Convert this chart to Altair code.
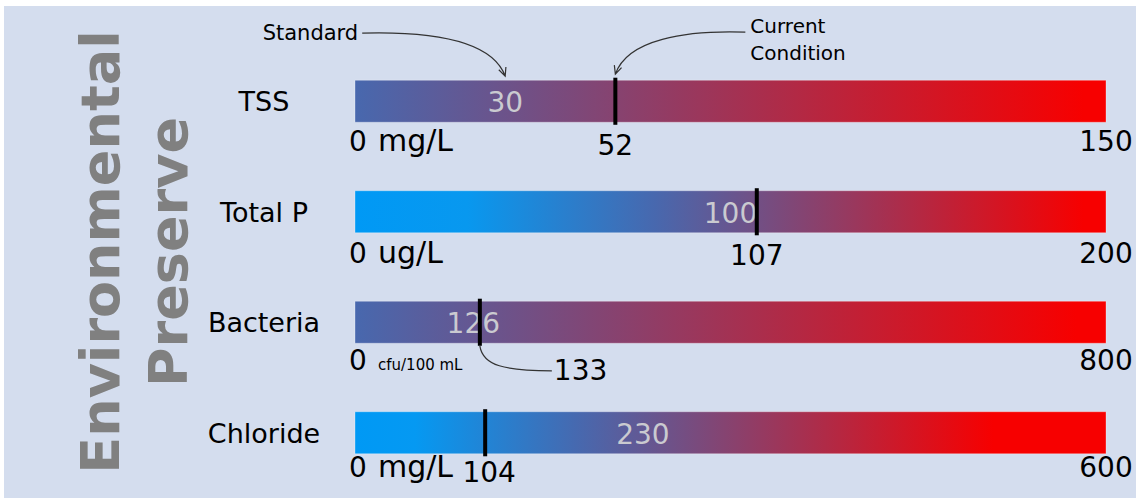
import altair as alt
import pandas as pd

# Water-quality indicators, each on its own 0..max scale
parameters = ["TSS", "Total P", "Bacteria", "Chloride"]
units = ["mg/L", "ug/L", "cfu/100 mL", "mg/L"]
standards = [30, 100, 126, 230]
current = [52, 107, 133, 104]
scale_max = [150, 200, 800, 600]

df = pd.DataFrame({
    "param": parameters,
    "unit": units,
    "standard": standards,
    "current": current,
    "max": scale_max,
    "row": list(range(len(parameters))),
})

# ---- styling -------------------------------------------------------------
FONT = "DejaVu Sans"
PANEL = "#d4ddee"
BAR_HALF = 0.19      # bar half-height, in row units
TICK_HALF = 0.213    # current-condition tick half-height, in row units

BLUE, STEEL, RED = "#0099f5", "#4868ae", "#f70000"
gradients = [
    [(0.0, STEEL), (0.97, RED), (1.0, RED)],
    [(0.0, BLUE), (0.15, "#0898ef"), (0.40, STEEL), (0.97, RED), (1.0, RED)],
    [(0.0, STEEL), (0.96, RED), (1.0, RED)],
    [(0.0, BLUE), (0.08, "#0599f2"), (0.30, STEEL), (0.85, RED), (1.0, RED)],
]
range_dy = [50, 51, 48, 44]          # baseline offset of the 0 / max labels
current_dy = [54, 53, 58, 49]        # baseline offset of the current value
current_align = ["center", "center", "left", "center"]
current_dx = [0, 0, 74, 4]
unit_size = [30, 30, 15, 30]

# leader shapes (unit box scaled by symbol size 40000 -> 100 px per unit)
STD_LEADER = ("M -1.43 -0.43 C -0.70 -0.45 -0.13 -0.35 0 0 "
              "M 0.007 -0.09 L 0 0 L -0.064 -0.063")
CUR_LEADER = ("M 1.30 -0.42 C 0.70 -0.44 0.12 -0.35 0 0 "
              "M 0.062 -0.065 L 0 0 L -0.010 -0.090")
BAC_LEADER = "M 0 0 C 0.03 0.20 0.25 0.25 0.72 0.25"

XS = alt.Scale(domain=[0, 1], nice=False, zero=False)
YS = alt.Scale(domain=[-0.5, 3.5], reverse=True, nice=False, zero=False)


def xe(field):
    return alt.X(f"{field}:Q", scale=XS, axis=None)


def ye(field):
    return alt.Y(f"{field}:Q", scale=YS, axis=None)


base = alt.Chart(df).transform_calculate(
    lo="0",
    hi="datum.max / datum.max",
    std_f="datum.standard / datum.max",
    cur_f="datum.current / datum.max",
    top=f"datum.row - {BAR_HALF}",
    bot=f"datum.row + {BAR_HALF}",
    ttop=f"datum.row - {TICK_HALF}",
    tbot=f"datum.row + {TICK_HALF}",
    arrow_std="datum.row - 0.228",
    arrow_cur="datum.row - 0.245",
)

layers = []

# panel background
panel = alt.Chart(pd.DataFrame({"p": [0]})).mark_rect(fill=PANEL).encode(
    x=alt.value(-351), x2=alt.value(781), y=alt.value(-40), y2=alt.value(452)
)
layers.append(panel)

# rotated title
for line, xpix in (("Environmental", -236), ("Preserve", -168)):
    layers.append(
        alt.Chart(pd.DataFrame({"p": [0]})).mark_text(
            text=line, angle=270, align="center", baseline="alphabetic",
            font=FONT, fontSize=54, fontWeight="bold", color="#808080",
        ).encode(x=alt.value(xpix), y=alt.value(206))
    )

# parameter names
layers.append(
    base.mark_text(align="center", baseline="alphabetic", dx=-91, dy=10,
                   font=FONT, fontSize=27, color="black")
    .encode(x=xe("lo"), y=ye("row"), text="param:N")
)

for i in range(len(parameters)):
    row = base.transform_filter(alt.datum.row == i)
    grad = alt.LinearGradient(
        gradient="linear",
        stops=[alt.GradientStop(offset=o, color=c) for o, c in gradients[i]],
        x1=0, x2=1, y1=0, y2=0,
    )
    layers.append(
        row.mark_rect(fill=grad, stroke="white", strokeOpacity=0.3, strokeWidth=1)
        .encode(x=xe("lo"), x2="hi", y=ye("top"), y2="bot")
    )
    # standard value inside the bar
    layers.append(
        row.mark_text(align="center", baseline="alphabetic", dy=11,
                      font=FONT, fontSize=28, color="#cacad0")
        .encode(x=xe("std_f"), y=ye("row"), text="standard:Q")
    )
    # current condition tick
    layers.append(
        row.mark_rule(color="black", strokeWidth=4, strokeCap="butt")
        .encode(x=xe("cur_f"), y=ye("ttop"), y2="tbot")
    )
    # scale start, unit, scale end
    layers.append(
        row.mark_text(align="left", baseline="alphabetic", dx=-6, dy=range_dy[i],
                      font=FONT, fontSize=28, color="black")
        .encode(x=xe("lo"), y=ye("row"), text="lo:Q")
    )
    layers.append(
        row.mark_text(align="left", baseline="alphabetic", dx=23, dy=range_dy[i],
                      font=FONT, fontSize=unit_size[i], color="black")
        .encode(x=xe("lo"), y=ye("row"), text="unit:N")
    )
    layers.append(
        row.mark_text(align="center", baseline="alphabetic", dy=range_dy[i],
                      font=FONT, fontSize=28, color="black")
        .encode(x=xe("hi"), y=ye("row"), text="max:Q")
    )
    # current value
    layers.append(
        row.mark_text(align=current_align[i], baseline="alphabetic",
                      dx=current_dx[i], dy=current_dy[i],
                      font=FONT, fontSize=28, color="black")
        .encode(x=xe("cur_f"), y=ye("row"), text="current:Q")
    )

# annotations on the first indicator
first = base.transform_filter(alt.datum.row == 0)
leader_style = dict(filled=False, stroke="#333333", strokeWidth=1.2,
                    opacity=1, size=40000)
layers.append(
    first.mark_point(shape=STD_LEADER, **leader_style)
    .encode(x=xe("std_f"), y=ye("arrow_std"))
)
layers.append(
    first.mark_point(shape=CUR_LEADER, **leader_style)
    .encode(x=xe("cur_f"), y=ye("arrow_cur"))
)
layers.append(
    first.mark_text(text="Standard", align="right", baseline="alphabetic",
                    dx=-147, dy=-61, font=FONT, fontSize=21, color="black")
    .encode(x=xe("std_f"), y=ye("row"))
)
layers.append(
    first.mark_text(text=["Current", "Condition"], align="left",
                    baseline="alphabetic", dx=135, dy=-68, lineHeight=27,
                    font=FONT, fontSize=20, color="black")
    .encode(x=xe("cur_f"), y=ye("row"))
)
# leader from the bacteria tick to its value
layers.append(
    base.transform_filter(alt.datum.row == 2)
    .mark_point(shape=BAC_LEADER, **leader_style)
    .encode(x=xe("cur_f"), y=ye("tbot"))
)

chart = alt.layer(*layers).properties(
    width=751,
    height=442,
    padding={"left": 355, "top": 46, "right": 30, "bottom": 10},
    autosize=alt.AutoSizeParams(type="none"),
    background="white",
).configure_view(stroke=None)

chart.save("out.html", embed_options={"renderer": "svg", "actions": False})
